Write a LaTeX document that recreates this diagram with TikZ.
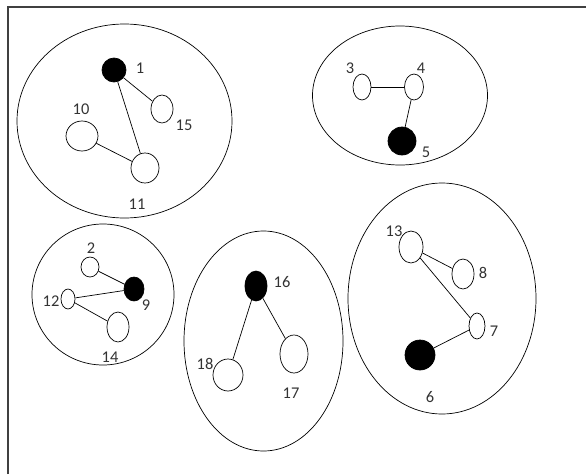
\documentclass[tikz,border=0pt]{standalone}
\usepackage{fontspec}
\setmainfont{Carlito}
\usetikzlibrary{shapes.geometric}

\begin{document}
\begin{tikzpicture}[
    x=0.03cm, y=-0.03cm,
    line width=0.6pt,
    font=\fontsize{14}{16}\selectfont,
    % cluster outline
    group/.style 2 args={
        draw, ellipse, inner sep=0pt,
        minimum width=#1*0.06cm, minimum height=#2*0.06cm
    },
    % open vertex
    vert/.style 2 args={
        draw, ellipse, inner sep=0pt, fill=white,
        minimum width=#1*0.06cm, minimum height=#2*0.06cm
    },
    % filled vertex
    hub/.style 2 args={
        vert={#1}{#2}, fill=black
    },
    lbl/.style={inner sep=0pt, text=black!80},
    edge/.style={draw, line width=0.6pt},
]

% ── Frame (open at right and bottom) ──
\useasboundingbox (0,0) rectangle (586,474);
\coordinate (fbot) at (8,474);
\coordinate (ftop) at (8,7);
\coordinate (fright) at (586,7);
\draw[line width=1.3pt, black!75] (fbot) -- (ftop) -- (fright);

% ── Cluster outlines ──
\node[group={107.5}{97}]  (grpA) at (124.5,121) {};
\node[group={87.5}{69.5}] (grpB) at (400,95.5) {};
\node[group={71}{70.5}]   (grpC) at (103,294.5) {};
\node[group={79.5}{110}]  (grpD) at (263.5,341) {};
\node[group={94}{115.5}]  (grpE) at (442,298.5) {};

% ── Cluster A: 1, 10, 11, 15 ──
\node[hub={12}{12}]  (n1)  at (114,70) {};
\node[vert={11}{14}] (n15) at (162,109) {};
\node[vert={16}{15}] (n10) at (82,136) {};
\node[vert={14}{15}] (n11) at (145,168) {};
\node[lbl] (l1)  at (140,68)  {1};
\node[lbl] (l15) at (184,125) {15};
\node[lbl] (l10) at (81,109)  {10};
\node[lbl] (l11) at (137,204) {11};
\draw[edge] (n1) -- (n15);
\draw[edge] (n1) -- (n11);
\draw[edge] (n10) -- (n11);

% ── Cluster B: 3, 4, 5 ──
\node[vert={9}{13}]   (n3) at (362,87) {};
\node[vert={9.5}{13}] (n4) at (414,87) {};
\node[hub={14}{14}]   (n5) at (402,141) {};
\node[lbl] (l3) at (350,68)  {3};
\node[lbl] (l4) at (421,68)  {4};
\node[lbl] (l5) at (426,152) {5};
\draw[edge] (n3) -- (n4);
\draw[edge] (n4) -- (n5);

% ── Cluster C: 2, 9, 12, 14 ──
\node[vert={9}{10}]  (n2)  at (90,267) {};
\node[hub={10}{12}]  (n9)  at (134,289) {};
\node[vert={7}{10}]  (n12) at (68,299) {};
\node[vert={11}{15}] (n14) at (118,327) {};
\node[lbl] (l2)  at (91,248)  {2};
\node[lbl] (l9)  at (146,305) {9};
\node[lbl] (l12) at (51,301)  {12};
\node[lbl] (l14) at (110,357) {14};
\draw[edge] (n2) -- (n9);
\draw[edge] (n12) -- (n9);
\draw[edge] (n12) -- (n14);

% ── Cluster D: 16, 17, 18 ──
\node[hub={11}{15}]  (n16) at (256,286) {};
\node[vert={14}{19}] (n17) at (294,354) {};
\node[vert={15}{16}] (n18) at (228,375) {};
\node[lbl] (l16) at (282,282) {16};
\node[lbl] (l17) at (291,393) {17};
\node[lbl] (l18) at (205,364) {18};
\draw[edge] (n16) -- (n17);
\draw[edge] (n16) -- (n18);

% ── Cluster E: 6, 7, 8, 13 ──
\node[vert={12}{16}] (n13) at (411,247) {};
\node[vert={11}{15}] (n8)  at (463,274) {};
\node[vert={8}{13}]  (n7)  at (477,326) {};
\node[hub={15}{15}]  (n6)  at (420,355) {};
\node[lbl] (l13) at (394,231) {13};
\node[lbl] (l8)  at (483,273) {8};
\node[lbl] (l7)  at (494,331) {7};
\node[lbl] (l6)  at (430,397) {6};
\draw[edge] (n13) -- (n8);
\draw[edge] (n13) -- (n7);
\draw[edge] (n7) -- (n6);

\end{tikzpicture}
\end{document}
